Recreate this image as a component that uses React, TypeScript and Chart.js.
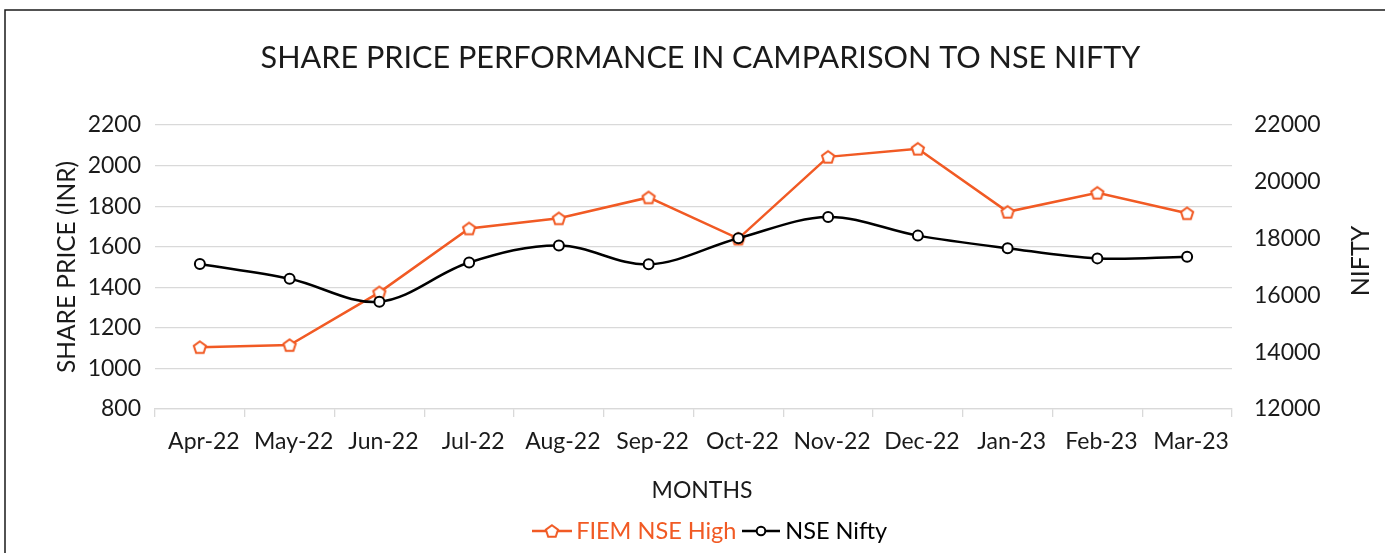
import React, { useEffect, useRef } from "react";
import { Chart, registerables } from "chart.js";

Chart.register(...registerables);

// ---- data ----
const months = ["Apr-22", "May-22", "Jun-22", "Jul-22", "Aug-22", "Sep-22", "Oct-22", "Nov-22", "Dec-22", "Jan-23", "Feb-23", "Mar-23"];
const fiemNseHigh = [1105, 1115, 1375, 1690, 1740, 1843, 1640, 2043, 2083, 1772, 1866, 1765];
const nseNifty = [17102.55, 16584.55, 15780.25, 17158.25, 17759.3, 17094.35, 18012.2, 18758.35, 18105.3, 17662.15, 17303.95, 17359.75];
const shareAxisRange = [800, 2200, 200];
const niftyAxisRange = [12000, 22000, 2000];
const seriesNames = ["FIEM NSE High", "NSE Nifty"];

const ORANGE = "#F15A24";
const BLACK = "#000000";
const FONT = "Lato";
const TEXT = "#1a1a1a";

function makeMarker(kind: "pentagon" | "circle", color: string, withLine: boolean, lineLen: number) {
  const w = withLine ? lineLen : 16;
  const h = 16;
  const c = document.createElement("canvas");
  c.width = w;
  c.height = h;
  const ctx = c.getContext("2d")!;
  const cx = w / 2;
  const cy = h / 2;
  if (withLine) {
    ctx.strokeStyle = color;
    ctx.lineWidth = 2.5;
    ctx.beginPath();
    ctx.moveTo(0, cy);
    ctx.lineTo(w, cy);
    ctx.stroke();
  }
  ctx.lineWidth = 2;
  ctx.strokeStyle = color;
  ctx.fillStyle = "#ffffff";
  ctx.beginPath();
  if (kind === "pentagon") {
    const r = 6.4;
    for (let i = 0; i < 5; i++) {
      const a = -Math.PI / 2 + (i * 2 * Math.PI) / 5;
      const px = cx + r * Math.cos(a);
      const py = cy + 0.6 + r * Math.sin(a);
      if (i === 0) ctx.moveTo(px, py);
      else ctx.lineTo(px, py);
    }
    ctx.closePath();
  } else {
    ctx.arc(cx, cy, withLine ? 4.3 : 5, 0, Math.PI * 2);
  }
  ctx.fill();
  ctx.stroke();
  return c;
}

const decorPlugin = {
  id: "decor",
  beforeDraw(chart: any) {
    const ctx = chart.ctx;
    ctx.save();
    ctx.fillStyle = "#ffffff";
    ctx.fillRect(0, 0, chart.width, chart.height);
    ctx.restore();
  },
  afterLayout(chart: any) {
    // Excel places the legend slightly right of centre
    if (chart.legend) {
      chart.legend.left += 12.75;
      chart.legend.right += 12.75;
    }
  },
  afterDraw(chart: any) {
    const ctx = chart.ctx;
    const area = chart.chartArea;
    ctx.save();
    // frame
    ctx.strokeStyle = "#1a1a1a";
    ctx.lineWidth = 1.5;
    ctx.beginPath();
    ctx.moveTo(5, chart.height);
    ctx.lineTo(5, 10);
    ctx.lineTo(chart.width, 10);
    ctx.stroke();
    ctx.fillStyle = TEXT;
    ctx.textAlign = "center";
    ctx.textBaseline = "middle";
    // x axis title
    ctx.font = `23px ${FONT}`;
    ctx.fillText("MONTHS", (area.left + area.right) / 2 + 8.5, area.bottom + 82);
    // right axis title, reading bottom to top
    const y1 = chart.scales.y1;
    ctx.translate(y1.right - 24, (area.top + area.bottom) / 2 - 6);
    ctx.rotate(-Math.PI / 2);
    ctx.font = `25px ${FONT}`;
    ctx.fillText("NIFTY", 0, 0);
    ctx.restore();
  },
};

export default function App() {
  const ref = useRef<HTMLCanvasElement | null>(null);

  useEffect(() => {
    if (!ref.current) return;
    const pent = makeMarker("pentagon", ORANGE, false, 16);
    const pentLegend = makeMarker("pentagon", ORANGE, true, 40);
    const circLegend = makeMarker("circle", BLACK, true, 38);

    const chart = new Chart(ref.current, {
      type: "line",
      data: {
        labels: months,
        datasets: [
          {
            label: seriesNames[0],
            data: fiemNseHigh,
            yAxisID: "y",
            borderColor: ORANGE,
            backgroundColor: ORANGE,
            borderWidth: 2.5,
            tension: 0,
            pointStyle: pent as any,
            pointRadius: 6,
            order: 2,
          },
          {
            label: seriesNames[1],
            data: nseNifty,
            yAxisID: "y1",
            borderColor: BLACK,
            backgroundColor: "#ffffff",
            borderWidth: 2.5,
            tension: 0.35,
            pointStyle: "circle",
            pointRadius: 5,
            pointBorderWidth: 2,
            pointBackgroundColor: "#ffffff",
            pointBorderColor: BLACK,
            order: 1,
          },
        ],
      },
      options: {
        responsive: false,
        animation: false,
        devicePixelRatio: 1,
        layout: { padding: { left: 16, right: 0, top: 0, bottom: 0.25 } },
        plugins: {
          tooltip: { enabled: false },
          title: {
            display: true,
            text: "SHARE PRICE PERFORMANCE IN CAMPARISON TO NSE NIFTY",
            color: TEXT,
            font: { family: FONT, size: 30.6, weight: "normal", lineHeight: 1.2 },
            padding: { top: 39.6, bottom: 48.7 },
          },
          legend: {
            display: true,
            position: "bottom",
            labels: {
              usePointStyle: true,
              pointStyleWidth: 25,
              padding: 12,
              font: { family: FONT, size: 23.5 },
              generateLabels: () => [
                { text: seriesNames[0], fontColor: ORANGE, pointStyle: pentLegend as any, datasetIndex: 0, hidden: false, lineWidth: 0, strokeStyle: ORANGE, fillStyle: ORANGE },
                { text: seriesNames[1], fontColor: BLACK, pointStyle: circLegend as any, datasetIndex: 1, hidden: false, lineWidth: 0, strokeStyle: BLACK, fillStyle: BLACK },
              ],
            },
          },
        },
        scales: {
          x: {
            type: "category",
            offset: true,
            grid: {
              offset: true,
              drawOnChartArea: false,
              drawTicks: true,
              tickLength: 8,
              color: "#d9d9d9",
              lineWidth: 1.3,
            },
            border: { display: true, color: "#d9d9d9", width: 1.3 },
            ticks: {
              color: TEXT,
              font: { family: FONT, size: 23 },
              padding: 11,
              labelOffset: 4,
              maxRotation: 0,
              autoSkip: false,
            },
            title: { display: false },
            afterFit: (s: any) => {
              s.height = 98.25;
            },
          },
          y: {
            type: "linear",
            position: "left",
            min: shareAxisRange[0],
            max: shareAxisRange[1],
            grid: { color: "#d9d9d9", lineWidth: 1.3, drawTicks: false },
            border: { display: false },
            ticks: {
              stepSize: shareAxisRange[2],
              color: TEXT,
              font: { family: FONT, size: 23 },
              padding: 14,
              callback: (v: any) => String(v),
            },
            title: {
              display: true,
              text: "SHARE PRICE (INR)",
              color: TEXT,
              font: { family: FONT, size: 24.5 },
              padding: { top: 36, bottom: 0 },
            },
            afterFit: (s: any) => {
              s.width = 139;
            },
          },
          y1: {
            type: "linear",
            position: "right",
            min: niftyAxisRange[0],
            max: niftyAxisRange[1],
            grid: { drawOnChartArea: false, drawTicks: false },
            border: { display: false },
            ticks: {
              stepSize: niftyAxisRange[2],
              color: TEXT,
              font: { family: FONT, size: 23 },
              padding: 22,
              callback: (v: any) => String(v),
            },
            afterFit: (s: any) => {
              s.width = 153;
            },
          },
        },
      } as any,
      plugins: [decorPlugin],
    });
    return () => chart.destroy();
  }, []);

  return (
    <div style={{ position: "absolute", left: 0, top: 0, width: 1385, height: 553 }}>
      <canvas ref={ref} width={1385} height={553} style={{ display: "block" }} />
    </div>
  );
}
